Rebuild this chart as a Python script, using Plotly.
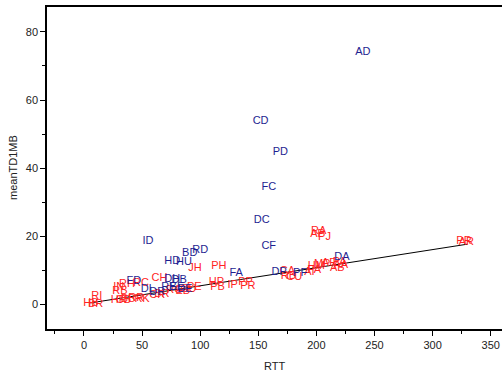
import plotly.graph_objects as go

# Blue group
blue_labels = ["AD", "CD", "PD", "FC", "DC", "CF", "ID", "BD", "RD", "HD", "HU",
               "DA", "FA", "DP", "PF", "FD", "DH", "DB", "RE", "DL", "DE", "BE", "DR"]
blue_rtt = [240, 152, 169, 159, 153, 159, 55, 91, 100, 76, 86,
            222, 131, 168, 186, 43, 76, 82, 73, 55, 87, 80, 63]
blue_td = [74.1, 53.8, 44.7, 34.4, 24.7, 17.1, 18.5, 15.0, 15.9, 12.5, 12.4,
           13.8, 9.1, 9.4, 9.1, 6.8, 7.2, 6.9, 5.0, 4.2, 4.2, 4.8, 3.6]

# Red group
red_labels = ["RA", "AP", "PJ", "AR", "PR", "JH", "PH", "CH", "RH", "RC", "IN", "RB", "RI",
              "HB", "BR", "HR", "BB", "RR", "CB", "RK", "CR", "BR", "RG", "CU", "EB", "PE",
              "HP", "PB", "IP", "PP", "PR", "CA", "RB", "CU", "AI", "PA", "MP", "HM", "AP",
              "AB", "PA", "AA"]
red_rtt = [202, 201, 207, 329, 327, 95.5, 116, 65, 37, 49, 30, 31, 11,
           6, 10, 30, 38, 45, 34, 50, 63, 67, 78, 90, 85, 95,
           114, 115, 128, 139, 141, 175, 176, 181, 194, 198, 205, 200, 211,
           218, 220, 221]
red_td = [21.5, 20.6, 19.7, 18.2, 18.4, 10.6, 11.2, 7.6, 5.9, 6.2, 4.9, 3.8, 2.4,
          0.2, 0.0, 1.2, 1.5, 1.8, 1.0, 1.5, 2.6, 3.0, 4.1, 4.3, 3.9, 5.0,
          6.5, 5.0, 5.6, 6.3, 5.3, 9.5, 8.2, 8.0, 9.4, 10.0, 11.6, 11.0, 12.0,
          10.6, 12.4, 11.5]

# Fitted line
fit_rtt = [5, 330]
fit_td = [0.3, 17.6]

FONT = "Liberation Sans, Arial, sans-serif"

fig = go.Figure()
fig.add_trace(go.Scatter(x=fit_rtt, y=fit_td, mode="lines",
                         line=dict(color="black", width=1), showlegend=False,
                         hoverinfo="skip"))
fig.add_trace(go.Scatter(x=red_rtt, y=red_td, mode="text", text=red_labels,
                         textposition="middle center",
                         textfont=dict(family=FONT, size=11, color="rgb(255,35,35)"),
                         showlegend=False))
fig.add_trace(go.Scatter(x=blue_rtt, y=blue_td, mode="text", text=blue_labels,
                         textposition="middle center",
                         textfont=dict(family=FONT, size=11, color="rgb(30,30,145)"),
                         showlegend=False))

fig.update_layout(
    width=502, height=371,
    margin=dict(l=47, r=0, t=7, b=42, autoexpand=False),
    paper_bgcolor="white", plot_bgcolor="white",
    font=dict(family=FONT, size=11, color="#222222"),
    xaxis=dict(range=[-31.8, 359.7], tickvals=[0, 50, 100, 150, 200, 250, 300, 350],
               ticks="outside", ticklen=5, tickwidth=1, tickcolor="black",
               minor=dict(ticks="outside", ticklen=3, dtick=25, tick0=-25, tickcolor="black"),
               showline=True, linecolor="black", linewidth=1.5, mirror=True,
               showgrid=False, zeroline=False, automargin=False),
    yaxis=dict(range=[-7.35, 87.35], tickvals=[0, 20, 40, 60, 80],
               ticks="outside", ticklen=5, tickwidth=1, tickcolor="black",
               minor=dict(ticks="outside", ticklen=3, dtick=10, tick0=0, tickcolor="black"),
               showline=True, linecolor="black", linewidth=1.5,
               showgrid=False, zeroline=False, automargin=False),
)
fig.add_annotation(text="RTT", xref="paper", yref="paper",
                   x=0.5, y=-(366 - 329) / (329 - 7), showarrow=False,
                   xanchor="center", yanchor="middle",
                   font=dict(size=11, family=FONT, color="#222222"))
fig.add_annotation(text="meanTD1MB", textangle=-90, xref="paper", yref="paper",
                   x=-(47 - 13) / (502 - 47), y=0.5, showarrow=False,
                   xanchor="center", yanchor="middle",
                   font=dict(size=11, family=FONT, color="#222222"))

fig.write_html("out.html", config={"displayModeBar": False},
               post_script="document.body.style.margin='0';document.body.style.padding='0';")
